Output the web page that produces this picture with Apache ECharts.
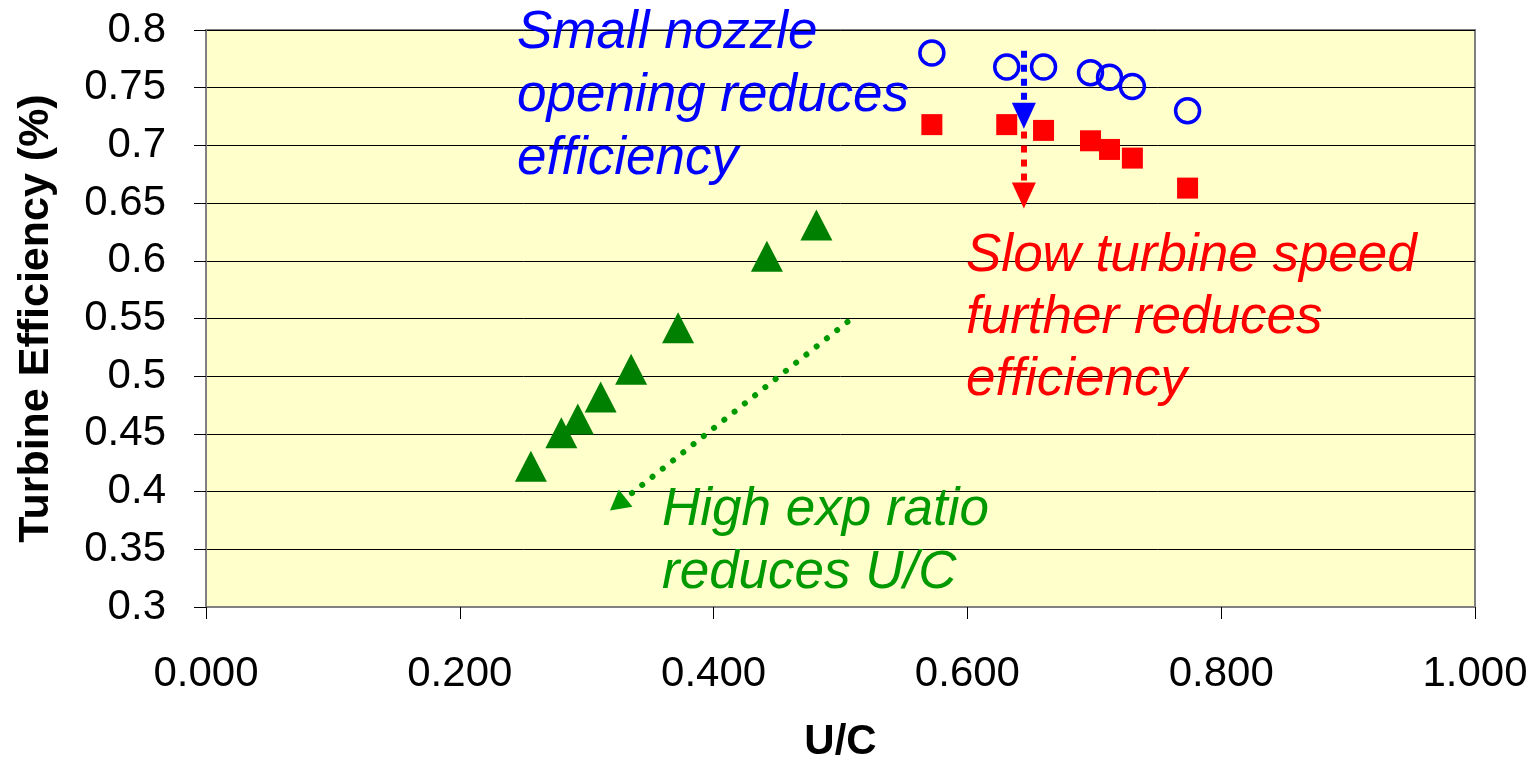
<!DOCTYPE html>
<html>
<head>
<meta charset="utf-8">
<script src="https://cdn.jsdelivr.net/npm/echarts@6/dist/echarts.min.js"></script>
<style>
  html, body { margin: 0; padding: 0; background: #fff; }
  #chart { width: 1533px; height: 768px; }
</style>
</head>
<body>
<div id="chart"></div>
<script>
// U/C values shared by the nozzle / speed points
const openUC = [0.572, 0.631, 0.660, 0.697, 0.712, 0.730, 0.7735]
const openEff = [0.780, 0.768, 0.768, 0.763, 0.759, 0.751, 0.730]
const slowEff = [0.718, 0.718, 0.713, 0.704, 0.6965, 0.689, 0.663]

const expUC = [0.256, 0.280, 0.293, 0.311, 0.335, 0.372, 0.442, 0.481]
const expEff = [0.422, 0.451, 0.463, 0.482, 0.506, 0.542, 0.604, 0.631]

// annotation arrows [from, to] in data units (to = centre of the head)
const nozzleArrow = [[0.6445, 0.782], [0.6445, 0.7256]]
const speedArrow = [[0.6445, 0.712], [0.6445, 0.6565]]
const expArrow = [[0.5055, 0.547], [0.3245, 0.389]]

const xTicks = [0, 0.2, 0.4, 0.6, 0.8, 1.0]

const FONT = '"Liberation Sans", Arial, sans-serif'

const chart = echarts.init(document.getElementById('chart'), null, { renderer: 'canvas' })

const zip = (xs, ys) => xs.map((x, i) => [x, ys[i]])

const arrow = (pts, color, dash, cap, headSize) => ({
  type: 'line',
  data: [],
  silent: true,
  markLine: {
    silent: true,
    symbol: ['none', 'triangle'],
    symbolSize: headSize,
    label: { show: false },
    lineStyle: { color, width: 6, type: dash, cap, opacity: 1 },
    emphasis: { disabled: true },
    data: [[{ coord: pts[0] }, { coord: pts[1] }]]
  },
  z: 4
})

const option = {
  backgroundColor: '#fff',
  animation: false,
  grid: {
    left: 206, top: 30, width: 1269, height: 578,
    show: true,
    backgroundColor: '#FFFFCC',
    borderColor: '#808080',
    borderWidth: 2
  },
  xAxis: {
    type: 'value',
    min: xTicks[0],
    max: xTicks[xTicks.length - 1],
    interval: 0.2,
    name: 'U/C',
    nameLocation: 'middle',
    nameGap: 114,
    nameTextStyle: { fontFamily: FONT, fontSize: 42, fontWeight: 'bold', color: '#000' },
    axisLine: { lineStyle: { color: '#808080', width: 2 } },
    axisTick: { show: true, length: 12, lineStyle: { color: '#000' } },
    axisLabel: {
      margin: 46,
      fontFamily: FONT, fontSize: 42, color: '#000',
      formatter: v => v.toFixed(3)
    },
    splitLine: { show: false }
  },
  yAxis: {
    type: 'value',
    min: 0.3,
    max: 0.8,
    interval: 0.05,
    name: 'Turbine Efficiency (%)',
    nameLocation: 'middle',
    nameRotate: 90,
    nameGap: 148,
    nameTextStyle: { fontFamily: FONT, fontSize: 43, fontWeight: 'bold', color: '#000' },
    axisLine: { show: true, lineStyle: { color: '#808080', width: 2 } },
    axisTick: { show: true, length: 12, lineStyle: { color: '#000' } },
    axisLabel: {
      margin: 40,
      fontFamily: FONT, fontSize: 42, color: '#000',
      formatter: v => String(Math.round(v * 100) / 100)
    },
    splitLine: { show: true, lineStyle: { color: '#000', width: 1 } }
  },
  series: [
    arrow(nozzleArrow, '#0000FF', [7, 7], 'butt', [24, 26]),
    arrow(speedArrow, '#FF0000', [7, 7], 'butt', [24, 26]),
    arrow(expArrow, '#009900', [0.1, 13], 'round', [22, 20]),
    {
      name: 'Small nozzle opening',
      type: 'scatter',
      symbol: 'circle',
      symbolSize: 24,
      itemStyle: { color: 'rgba(0,0,0,0)', borderColor: '#0000FF', borderWidth: 3.5, opacity: 1 },
      data: zip(openUC, openEff),
      z: 5
    },
    {
      name: 'Slow turbine speed',
      type: 'scatter',
      symbol: 'rect',
      symbolSize: 21,
      itemStyle: { color: '#FF0000', opacity: 1 },
      data: zip(openUC, slowEff),
      z: 5
    },
    {
      name: 'High exp ratio',
      type: 'scatter',
      symbol: 'triangle',
      symbolSize: [32, 31],
      itemStyle: { color: '#008000', opacity: 1 },
      data: zip(expUC, expEff),
      z: 5
    }
  ],
  graphic: [
    {
      type: 'text', left: 517, top: 2, z: 10,
      style: {
        text: 'Small nozzle\nopening reduces\nefficiency',
        font: 'italic 53px ' + FONT, lineHeight: 63, fill: '#0000FF'
      }
    },
    {
      type: 'text', left: 966, top: 225, z: 10,
      style: {
        text: 'Slow turbine speed\nfurther reduces\nefficiency',
        font: 'italic 53px ' + FONT, lineHeight: 62, fill: '#FF0000'
      }
    },
    {
      type: 'text', left: 662, top: 479, z: 10,
      style: {
        text: 'High exp ratio\nreduces U/C',
        font: 'italic 53px ' + FONT, lineHeight: 63, fill: '#009900'
      }
    }
  ]
}

chart.setOption(option)
window.addEventListener('resize', () => chart.resize())
</script>
</body>
</html>
